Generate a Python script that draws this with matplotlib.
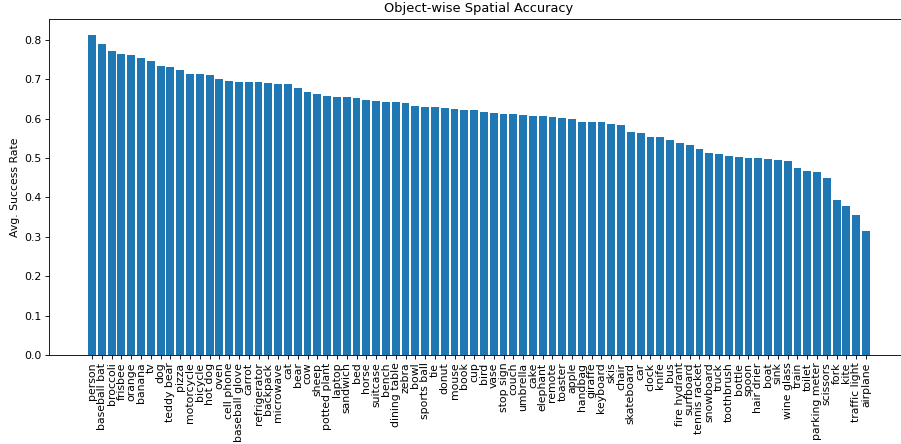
import matplotlib
matplotlib.use("Agg")
import matplotlib.pyplot as plt

categories = ["person", "baseball bat", "broccoli", "frisbee", "orange", "banana", "tv", "dog",
              "teddy bear", "pizza", "motorcycle", "bicycle", "hot dog", "oven", "cell phone",
              "baseball glove", "carrot", "refrigerator", "backpack", "microwave", "cat", "bear",
              "cow", "sheep", "potted plant", "laptop", "sandwich", "bed", "horse", "suitcase",
              "bench", "dining table", "zebra", "bowl", "sports ball", "tie", "donut", "mouse",
              "book", "cup", "bird", "vase", "stop sign", "couch", "umbrella", "cake", "elephant",
              "remote", "toaster", "apple", "handbag", "giraffe", "keyboard", "skis", "chair",
              "skateboard", "car", "clock", "knife", "bus", "fire hydrant", "surfboard",
              "tennis racket", "snowboard", "truck", "toothbrush", "bottle", "spoon", "hair drier",
              "boat", "sink", "wine glass", "train", "toilet", "parking meter", "scissors", "fork",
              "kite", "traffic light", "airplane"]

success_rate = [0.812, 0.789, 0.772, 0.764, 0.761, 0.754, 0.746, 0.733,
                0.731, 0.723, 0.713, 0.713, 0.711, 0.701, 0.695,
                0.693, 0.693, 0.693, 0.690, 0.688, 0.688, 0.678,
                0.668, 0.662, 0.657, 0.655, 0.655, 0.652, 0.647, 0.645,
                0.642, 0.642, 0.640, 0.632, 0.629, 0.629, 0.627, 0.624,
                0.622, 0.622, 0.617, 0.614, 0.612, 0.612, 0.609, 0.607, 0.607,
                0.604, 0.602, 0.599, 0.591, 0.591, 0.591, 0.586, 0.584,
                0.566, 0.563, 0.553, 0.553, 0.546, 0.538, 0.533,
                0.523, 0.513, 0.510, 0.505, 0.503, 0.500, 0.500,
                0.497, 0.495, 0.492, 0.475, 0.467, 0.464, 0.449, 0.393,
                0.378, 0.355, 0.315]

# original looks like a downscaled render, so use a lower dpi
dpi = 78
fig = plt.figure(figsize=(901 / dpi, 444 / dpi), dpi=dpi)
ax = fig.add_axes([0.0544, 0.2005, 0.9545, 0.7568])
ax.bar(categories, success_rate, color="#1f77b4")
ax.set_title("Object-wise Spatial Accuracy")
ax.set_ylabel("Avg. Success Rate")
plt.xticks(rotation=90)

fig.savefig("out.png", dpi=dpi)
